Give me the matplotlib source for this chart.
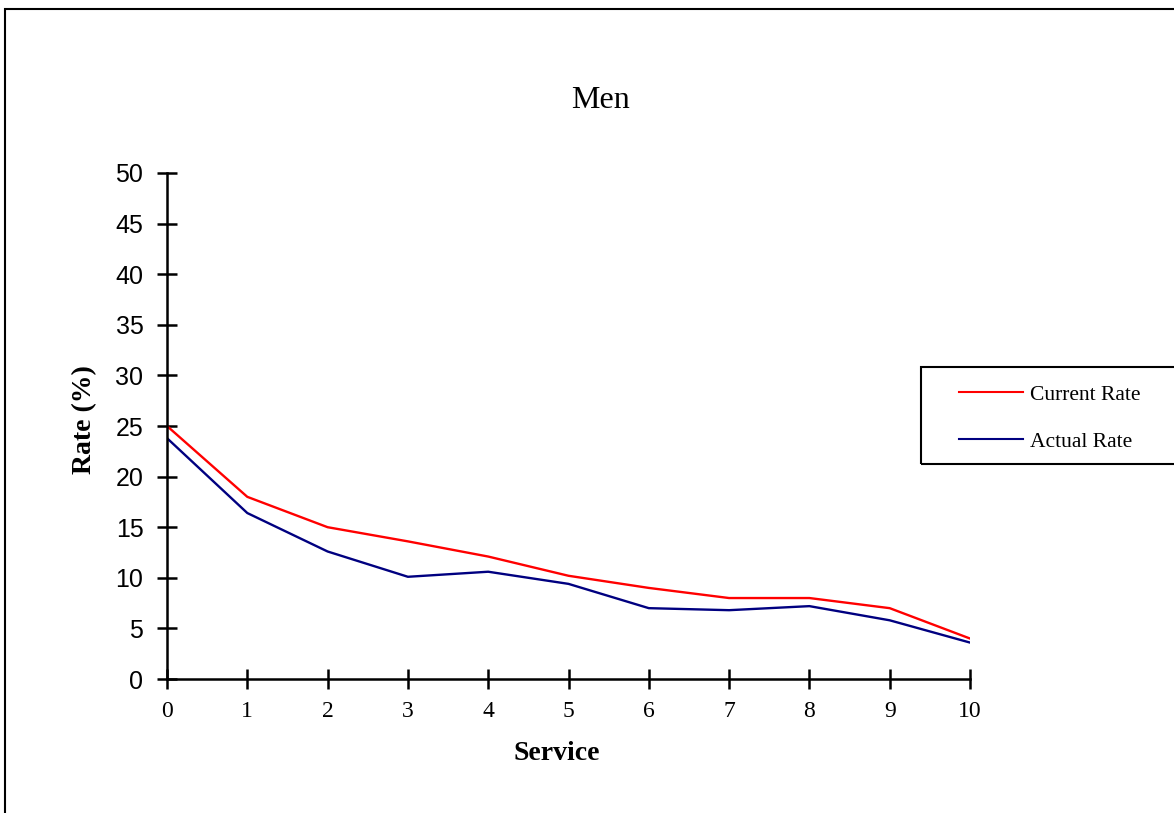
import matplotlib
matplotlib.use("Agg")
import matplotlib.pyplot as plt
from matplotlib.patches import Rectangle
from matplotlib.lines import Line2D

# data
service = [0, 1, 2, 3, 4, 5, 6, 7, 8, 9, 10]
current_rate = [25, 18, 15, 13.6, 12.1, 10.2, 9, 8, 8, 7, 4]
actual_rate = [23.8, 16.4, 12.6, 10.1, 10.6, 9.4, 7, 6.8, 7.2, 5.8, 3.6]
y_ticks = list(range(0, 51, 5))

W, H = 1174, 813
fig = plt.figure(figsize=(W / 100, H / 100), dpi=100)
fig.patch.set_facecolor("white")

# outer chart frame (cut off at right and bottom)
fig.patches.append(Rectangle((5 / W, -0.05), 1.2, 1.05 - 9 / H, transform=fig.transFigure,
                             fill=False, edgecolor="black", linewidth=1.5))

ax = fig.add_axes([167 / W, 1 - 679 / H, (970 - 167) / W, (679 - 173) / H])
ax.plot(service, current_rate, color="#ff0000", linewidth=1.7, label="Current Rate")
ax.plot(service, actual_rate, color="#000080", linewidth=1.7, label="Actual Rate")

ax.set_xlim(0, 10)
ax.set_ylim(0, 50)
ax.set_xticks(service)
ax.set_yticks(y_ticks)
for s in ["top", "right"]:
    ax.spines[s].set_visible(False)
for s in ["left", "bottom"]:
    ax.spines[s].set_linewidth(1.8)
ax.tick_params(axis="both", direction="inout", length=14, width=1.8)
ax.tick_params(axis="y", labelsize=18, pad=10)
for lab in ax.get_yticklabels():
    lab.set_family("Liberation Sans")
ax.tick_params(axis="x", labelsize=17, pad=9)
for lab in ax.get_xticklabels():
    lab.set_family("Liberation Serif")

fig.text(600 / W, 1 - 100 / H, "Men", ha="center", va="center",
         fontsize=23, family="Liberation Serif")
fig.text(557 / W, 1 - 753 / H, "Service", ha="center", va="center",
         fontsize=20, fontweight="bold", family="Liberation Serif")
fig.text(85 / W, 1 - 420 / H, "Rate (%)", ha="center", va="center", rotation=90,
         fontsize=20, fontweight="bold", family="Liberation Serif")

# legend box, extends past the right edge
fig.patches.append(Rectangle((921 / W, 1 - 464 / H), 300 / W, 97 / H, transform=fig.transFigure,
                             fill=False, edgecolor="black", linewidth=1.5))
handles = [Line2D([], [], color="#ff0000", linewidth=1.5),
           Line2D([], [], color="#000080", linewidth=1.5)]
fig.legend(handles, ["Current Rate", "Actual Rate"], loc="center left",
           bbox_to_anchor=(948 / W, 1 - 418 / H), frameon=False, borderpad=0,
           prop={"family": "Liberation Serif", "size": 15.5},
           handlelength=3.0, handletextpad=0.33, labelspacing=1.25)

fig.savefig("out.png", dpi=100)
